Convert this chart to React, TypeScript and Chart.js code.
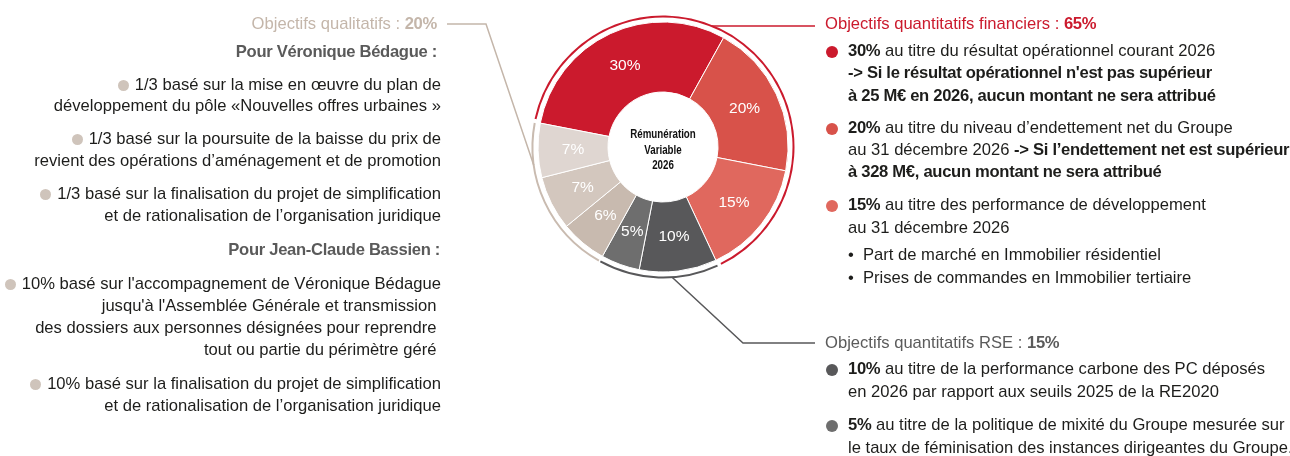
import React, { useEffect, useRef } from "react";
import { Chart, registerables } from "chart.js";

Chart.register(...registerables);

// ---------- data ----------
const sliceLabels = [
  "Résultat opérationnel courant 2026",
  "Endettement net du Groupe",
  "Performance de développement",
  "Performance carbone des PC",
  "Politique de mixité",
  "Qualitatif 1",
  "Qualitatif 2",
  "Qualitatif 3",
];
const sliceValues = [30, 20, 15, 10, 5, 6, 7, 7];
const sliceColors = ["#CB1A2D", "#D8524A", "#E0685E", "#58585A", "#6E6E6E", "#C8BAAF", "#D3C7BE", "#DFD6D1"];

const groupLabels = ["Objectifs quantitatifs financiers", "Objectifs quantitatifs RSE", "Objectifs qualitatifs"];
const groupValues = [65, 15, 20];
const groupColors = ["#CB1A2D", "#58585A", "#C9BBB0"];

const centerLines = ["Rémunération", "Variable", "2026"];

const FONT = '"Liberation Sans", Arial, sans-serif';
const TEXT = "#1d1d1b";
const FS = 16.6;
const BOLD_LS = "-0.3px";

type Seg = [string, boolean];

// ---------- chart plugins ----------
const connectorPlugin = {
  id: "connectors",
  afterDatasetsDraw(chart: any) {
    const ring = chart.getDatasetMeta(0).data[0];
    if (!ring) return;
    const cx = ring.x;
    const cy = ring.y;
    const R = ring.outerRadius + 0.5;
    const ctx = chart.ctx;
    ctx.save();
    ctx.lineWidth = 1.5;
    // financial (red) : horizontal line
    const yRed = 26;
    const xRed = cx + Math.sqrt(R * R - (cy - yRed) * (cy - yRed));
    ctx.strokeStyle = groupColors[0];
    ctx.beginPath();
    ctx.moveTo(xRed, yRed);
    ctx.lineTo(815, yRed);
    ctx.stroke();
    // RSE (gray)
    const aG = (86 * Math.PI) / 180;
    ctx.strokeStyle = "#58585A";
    ctx.beginPath();
    ctx.moveTo(cx + R * Math.cos(aG), cy + R * Math.sin(aG));
    ctx.lineTo(743, 343);
    ctx.lineTo(815, 343);
    ctx.stroke();
    // qualitative (taupe)
    const aT = (172 * Math.PI) / 180;
    ctx.strokeStyle = "#C4B6AA";
    ctx.beginPath();
    ctx.moveTo(cx + R * Math.cos(aT), cy + R * Math.sin(aT));
    ctx.lineTo(486, 24);
    ctx.lineTo(447, 24);
    ctx.stroke();
    ctx.restore();
  },
};

const labelPlugin = {
  id: "sliceLabels",
  afterDatasetsDraw(chart: any) {
    const meta = chart.getDatasetMeta(2);
    const ctx = chart.ctx;
    ctx.save();
    ctx.fillStyle = "#ffffff";
    ctx.textAlign = "center";
    ctx.textBaseline = "middle";
    ctx.font = `15.5px ${FONT}`;
    meta.data.forEach((arc: any, i: number) => {
      const p = arc.tooltipPosition(false);
      ctx.fillText(`${sliceValues[i]}%`, p.x, p.y);
    });
    const a0 = meta.data[0];
    if (a0) {
      ctx.fillStyle = "#111111";
      ctx.font = `bold 12.5px ${FONT}`;
      centerLines.forEach((t, i) => {
        ctx.save();
        ctx.translate(a0.x, a0.y + 3.5 + (i - 1) * 15.5);
        ctx.scale(0.78, 1);
        ctx.fillText(t, 0, 0);
        ctx.restore();
      });
    }
    ctx.restore();
  },
};

// ---------- text helpers ----------
function Segs({ segs }: { segs: Seg[] }) {
  return (
    <>
      {segs.map((s, i) => (
        <span key={i} style={s[1] ? { fontWeight: 700, letterSpacing: BOLD_LS } : { fontWeight: 400 }}>
          {s[0]}
        </span>
      ))}
    </>
  );
}

function Line(props: {
  y: number;
  left?: number;
  right?: number;
  color?: string;
  children: React.ReactNode;
}) {
  const style: React.CSSProperties = {
    position: "absolute",
    top: props.y - 11,
    height: 22,
    lineHeight: "22px",
    whiteSpace: "pre",
    fontSize: FS,
    color: props.color || TEXT,
  };
  if (props.left !== undefined) style.left = props.left;
  if (props.right !== undefined) {
    style.right = 1290 - props.right;
    style.textAlign = "right";
  }
  return <div style={style}>{props.children}</div>;
}

function Dot({ x, y, color, d = 12 }: { x: number; y: number; color: string; d?: number }) {
  return (
    <div
      style={{
        position: "absolute",
        left: x - d / 2,
        top: y - d / 2,
        width: d,
        height: d,
        borderRadius: "50%",
        background: color,
      }}
    />
  );
}

function InlineDot() {
  return (
    <span
      style={{
        display: "inline-block",
        width: 11,
        height: 11,
        borderRadius: "50%",
        background: "#CFC4BB",
        marginRight: 6,
        verticalAlign: "-1px",
      }}
    />
  );
}

// ---------- text content ----------
const finItems: { dot: string; lines: { y: number; segs: Seg[] }[] }[] = [
  {
    dot: sliceColors[0],
    lines: [
      { y: 51, segs: [["30%", true], [" au titre du résultat opérationnel courant 2026", false]] },
      { y: 73, segs: [["-> Si le résultat opérationnel n'est pas supérieur", true]] },
      { y: 95.5, segs: [["à 25 M€ en 2026, aucun montant ne sera attribué", true]] },
    ],
  },
  {
    dot: sliceColors[1],
    lines: [
      { y: 128, segs: [["20%", true], [" au titre du niveau d’endettement net du Groupe", false]] },
      { y: 150, segs: [["au 31 décembre 2026 ", false], ["-> Si l’endettement net est supérieur", true]] },
      { y: 172, segs: [["à 328 M€, aucun montant ne sera attribué", true]] },
    ],
  },
  {
    dot: sliceColors[2],
    lines: [
      { y: 205, segs: [["15%", true], [" au titre des performance de développement", false]] },
      { y: 228, segs: [["au 31 décembre 2026", false]] },
    ],
  },
];
const finSub = [
  { y: 255, t: "Part de marché en Immobilier résidentiel" },
  { y: 278, t: "Prises de commandes en Immobilier tertiaire" },
];
const rseItems: { dot: string; lines: { y: number; segs: Seg[] }[] }[] = [
  {
    dot: sliceColors[3],
    lines: [
      { y: 369, segs: [["10%", true], [" au titre de la performance carbone des PC déposés", false]] },
      { y: 392, segs: [["en 2026 par rapport aux seuils 2025 de la RE2020", false]] },
    ],
  },
  {
    dot: sliceColors[4],
    lines: [
      { y: 425, segs: [["5%", true], [" au titre de la politique de mixité du Groupe mesurée sur", false]] },
      { y: 448, segs: [["le taux de féminisation des instances dirigeantes du Groupe.", false]] },
    ],
  },
];
const qualLines: { y: number; t: string; dot?: boolean; bold?: boolean; right: number }[] = [
  { y: 52, t: "Pour Véronique Bédague :", bold: true, right: 437 },
  { y: 85, t: "1/3 basé sur la mise en œuvre du plan de", dot: true, right: 441 },
  { y: 106, t: "développement du pôle «Nouvelles offres urbaines »", right: 441 },
  { y: 139, t: "1/3 basé sur la poursuite de la baisse du prix de", dot: true, right: 441 },
  { y: 161, t: "revient des opérations d’aménagement et de promotion", right: 441 },
  { y: 194, t: "1/3 basé sur la finalisation du projet de simplification", dot: true, right: 441 },
  { y: 216, t: "et de rationalisation de l’organisation juridique", right: 441 },
  { y: 250, t: "Pour Jean-Claude Bassien :", bold: true, right: 440 },
  { y: 284, t: "10% basé sur l'accompagnement de Véronique Bédague", dot: true, right: 441 },
  { y: 306, t: "jusqu'à l'Assemblée Générale et transmission ", right: 441 },
  { y: 328, t: "des dossiers aux personnes désignées pour reprendre ", right: 441 },
  { y: 350, t: "tout ou partie du périmètre géré ", right: 441 },
  { y: 384, t: "10% basé sur la finalisation du projet de simplification", dot: true, right: 441 },
  { y: 406, t: "et de rationalisation de l’organisation juridique", right: 441 },
];

export default function App() {
  const ref = useRef<HTMLCanvasElement | null>(null);

  useEffect(() => {
    if (!ref.current) return;
    const chart = new Chart(ref.current, {
      type: "doughnut",
      data: {
        labels: sliceLabels,
        datasets: [
          {
            label: "Groupes",
            data: groupValues,
            backgroundColor: groupColors,
            borderWidth: 0,
            weight: 2,
            spacing: 3,
          } as any,
          {
            label: "",
            data: [1],
            backgroundColor: "rgba(0,0,0,0)",
            borderWidth: 0,
            weight: 3,
          } as any,
          {
            label: "Rémunération variable 2026",
            data: sliceValues,
            backgroundColor: sliceColors,
            borderColor: "#ffffff",
            borderWidth: 1,
            weight: 70,
          } as any,
        ],
      },
      options: {
        responsive: false,
        animation: false,
        events: [],
        rotation: -79,
        radius: 130,
        cutout: "42.3077%",
        layout: { padding: { left: 523, right: 487, top: 7, bottom: 169 } },
        plugins: { legend: { display: false }, tooltip: { enabled: false } },
      } as any,
      plugins: [connectorPlugin, labelPlugin],
    });
    return () => chart.destroy();
  }, []);

  return (
    <div
      style={{
        position: "absolute",
        left: 0,
        top: 0,
        width: 1290,
        height: 456,
        overflow: "hidden",
        background: "#ffffff",
        fontFamily: FONT,
      }}
    >
      <canvas ref={ref} width={1290} height={456} style={{ position: "absolute", left: 0, top: 0 }} />

      {/* Financial block */}
      <Line y={24} left={825} color={groupColors[0]}>
        <Segs segs={[[`${groupLabels[0]} : `, false], [`${groupValues[0]}%`, true]]} />
      </Line>
      {finItems.map((it, i) => (
        <React.Fragment key={"f" + i}>
          <Dot x={832} y={it.lines[0].y + 1} color={it.dot} />
          {it.lines.map((l, j) => (
            <Line key={j} y={l.y} left={848}>
              <Segs segs={l.segs} />
            </Line>
          ))}
        </React.Fragment>
      ))}
      {finSub.map((s, i) => (
        <React.Fragment key={"s" + i}>
          <Line y={s.y} left={848}>•</Line>
          <Line y={s.y} left={863}>{s.t}</Line>
        </React.Fragment>
      ))}

      {/* RSE block */}
      <Line y={343} left={825} color="#5b5b5b">
        <Segs segs={[[`${groupLabels[1]} : `, false], [`${groupValues[1]}%`, true]]} />
      </Line>
      {rseItems.map((it, i) => (
        <React.Fragment key={"r" + i}>
          <Dot x={832} y={it.lines[0].y + 1} color={it.dot} />
          {it.lines.map((l, j) => (
            <Line key={j} y={l.y} left={848}>
              <Segs segs={l.segs} />
            </Line>
          ))}
        </React.Fragment>
      ))}

      {/* Qualitative block */}
      <Line y={24} right={437} color="#C4B6AA">
        <Segs segs={[[`${groupLabels[2]} : `, false], [`${groupValues[2]}%`, true]]} />
      </Line>
      {qualLines.map((l, i) => (
        <Line key={"q" + i} y={l.y} right={l.right} color={l.bold ? "#5a5a5a" : TEXT}>
          {l.dot ? <InlineDot /> : null}
          <span style={l.bold ? { fontWeight: 700, letterSpacing: BOLD_LS } : { fontWeight: 400 }}>{l.t}</span>
        </Line>
      ))}
    </div>
  );
}
